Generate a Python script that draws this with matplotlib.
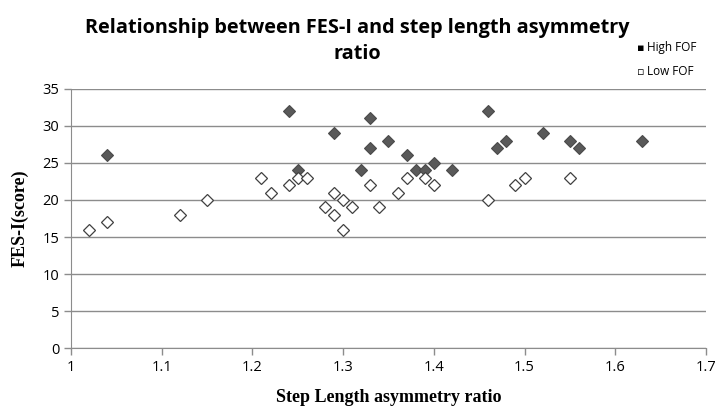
import matplotlib.pyplot as plt

# High FOF group (filled diamonds)
high_x = [1.04, 1.24, 1.25, 1.29, 1.32, 1.33, 1.33, 1.35, 1.37, 1.38, 1.39, 1.40,
          1.42, 1.46, 1.47, 1.48, 1.52, 1.55, 1.56, 1.63]
high_y = [26, 32, 24, 29, 24, 31, 27, 28, 26, 24, 24, 25,
          24, 32, 27, 28, 29, 28, 27, 28]

# Low FOF group (open diamonds)
low_x = [1.02, 1.04, 1.12, 1.15, 1.21, 1.22, 1.24, 1.25, 1.26, 1.28, 1.29, 1.29,
         1.30, 1.30, 1.31, 1.33, 1.34, 1.36, 1.37, 1.39, 1.40, 1.46, 1.49, 1.50, 1.55]
low_y = [16, 17, 18, 20, 23, 21, 22, 23, 23, 19, 21, 18,
         20, 16, 19, 22, 19, 21, 23, 23, 22, 20, 22, 23, 23]

xticks = [1, 1.1, 1.2, 1.3, 1.4, 1.5, 1.6, 1.7]
xtick_labels = ["1", "1.1", "1.2", "1.3", "1.4", "1.5", "1.6", "1.7"]
yticks = [0, 5, 10, 15, 20, 25, 30, 35]

fig = plt.figure(figsize=(7.15, 4.09), dpi=100)
ax = fig.add_axes([0.0993, 0.1484, 0.888, 0.6346])

ax.plot(high_x, high_y, linestyle="none", marker="D", markersize=5.8,
        markerfacecolor="#595959", markeredgecolor="#4a4a4a", markeredgewidth=0.8)
ax.plot(low_x, low_y, linestyle="none", marker="D", markersize=5.8,
        markerfacecolor="white", markeredgecolor="#404040", markeredgewidth=0.9)

ax.set_xlim(1, 1.7)
ax.set_ylim(0, 35)
ax.set_xticks(xticks)
ax.set_xticklabels(xtick_labels)
ax.set_yticks(yticks)
ax.yaxis.grid(True, color="#8c8c8c", linewidth=1)
ax.set_axisbelow(True)

for side in ["top", "right"]:
    ax.spines[side].set_visible(False)
for side in ["left", "bottom"]:
    ax.spines[side].set_color("#8c8c8c")
ax.tick_params(axis="both", color="#8c8c8c", length=5, width=1, labelsize=10.5,
               labelcolor="black")
for lab in ax.get_xticklabels() + ax.get_yticklabels():
    lab.set_family("Open Sans")

ax.set_xlabel("Step Length asymmetry ratio", family="Liberation Serif",
              fontweight="bold", fontsize=13, labelpad=10)
ax.set_ylabel("FES-I(score)", family="Liberation Serif",
              fontweight="bold", fontsize=13, labelpad=10)

fig.text(0.5, 0.932, "Relationship between FES-I and step length asymmetry",
         ha="center", va="center", family="Open Sans", fontweight="bold", fontsize=14.3)
fig.text(0.5, 0.868, "ratio", ha="center", va="center", family="Open Sans",
         fontweight="bold", fontsize=14.3)

# legend
fig.text(0.891, 0.883, "\u25aa", ha="left", va="center", fontsize=8, color="black")
fig.text(0.905, 0.883, "High FOF", ha="left", va="center", family="Open Sans", fontsize=8.5)
fig.text(0.891, 0.825, "\u25ab", ha="left", va="center", fontsize=8, color="black")
fig.text(0.905, 0.825, "Low FOF", ha="left", va="center", family="Open Sans", fontsize=8.5)

fig.savefig("out.png", dpi=100)
